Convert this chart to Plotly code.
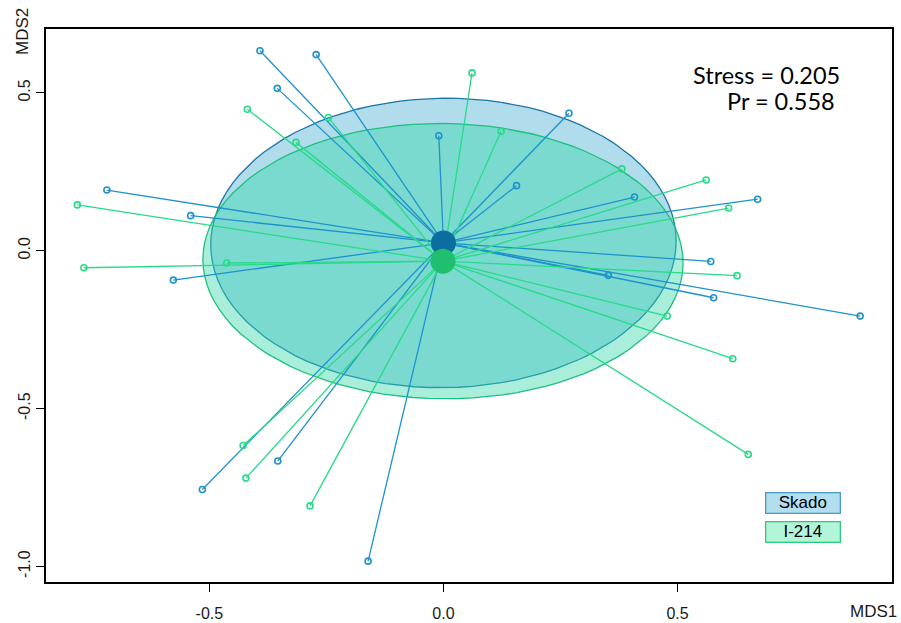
import numpy as np
import plotly.graph_objects as go

# ---- data (NMDS site scores) ----
skado_x = [-0.392, -0.355, -0.719, -0.540, -0.577, -0.272, -0.010, 0.268, 0.156,
           0.408, 0.671, 0.571, 0.352, 0.577, 0.890, -0.515, -0.354, -0.161]
skado_y = [0.633, 0.514, 0.192, 0.111, -0.093, 0.621, 0.364, 0.435, 0.206,
           0.170, 0.163, -0.034, -0.078, -0.149, -0.207, -0.756, -0.666, -0.983]

i214_x = [-0.419, -0.315, -0.782, -0.768, -0.463, -0.246, 0.061, 0.123, 0.381,
          0.561, 0.609, 0.627, 0.478, 0.618, 0.651, -0.428, -0.422, -0.285]
i214_y = [0.448, 0.343, 0.145, -0.054, -0.039, 0.422, 0.563, 0.378, 0.259,
          0.224, 0.135, -0.079, -0.207, -0.342, -0.645, -0.617, -0.720, -0.808]

group_names = ["Skado", "I-214"]
stress_text = "Stress = 0.205"
pr_text = "Pr = 0.558"
x_ticks = [-0.5, 0.0, 0.5]
y_ticks = [-1.0, -0.5, 0.0, 0.5]
x_tick_labels = ["-0.5", "0.0", "0.5"]
y_tick_labels = ["-1.0", "-0.5", "0.0", "0.5"]

styles = {
    "Skado": dict(fill="rgba(58,168,208,0.40)", edge="#1C76A6", line="#1E92CB",
                  cent="#0B6E9E", box_fill="#B3DEEF", box_edge="#4A9CC8"),
    "I-214": dict(fill="rgba(50,214,170,0.42)", edge="#1EBF7E", line="#27DA88",
                  cent="#1FBF6F", box_fill="#B3F5D8", box_edge="#2DC97E"),
}

groups = {"Skado": (np.array(skado_x), np.array(skado_y)),
          "I-214": (np.array(i214_x), np.array(i214_y))}


def sd_ellipse(x, y, n=100):
    cov = np.cov(np.vstack([x, y]))
    L = np.linalg.cholesky(cov)
    t = np.linspace(0, 2 * np.pi, n + 1)
    circ = np.vstack([np.cos(t), np.sin(t)])
    pts = L @ circ
    return x.mean() + pts[0], y.mean() + pts[1]


fig = go.Figure()

# ellipses
for g in group_names:
    x, y = groups[g]
    ex, ey = sd_ellipse(x, y)
    s = styles[g]
    fig.add_trace(go.Scatter(x=ex, y=ey, mode="lines", fill="toself",
                             fillcolor=s["fill"], line=dict(color=s["edge"], width=1.3),
                             hoverinfo="skip", showlegend=False))

# spiders
for g in group_names:
    x, y = groups[g]
    cx, cy = x.mean(), y.mean()
    sx, sy = [], []
    for xi, yi in zip(x, y):
        sx += [cx, xi, None]
        sy += [cy, yi, None]
    fig.add_trace(go.Scatter(x=sx, y=sy, mode="lines",
                             line=dict(color=styles[g]["line"], width=1.3),
                             hoverinfo="skip", showlegend=False))

# site points
for g in group_names:
    x, y = groups[g]
    fig.add_trace(go.Scatter(x=x, y=y, mode="markers",
                             marker=dict(symbol="circle-open", size=6, color=styles[g]["line"],
                                         line=dict(color=styles[g]["line"], width=1.6)),
                             name=g, showlegend=False))

# centroids
for g in group_names:
    x, y = groups[g]
    fig.add_trace(go.Scatter(x=[x.mean()], y=[y.mean()], mode="markers",
                             marker=dict(size=25, color=styles[g]["cent"], line=dict(width=0)),
                             hoverinfo="skip", showlegend=False))

axis_font = dict(family="Arial, Liberation Sans, sans-serif", size=16, color="#1a1a1a")

fig.update_xaxes(range=[-0.849, 0.958], tickvals=x_ticks, ticktext=x_tick_labels,
                 ticks="outside", ticklen=8, tickwidth=1.2, tickcolor="black",
                 showline=True, linecolor="black", linewidth=1.5, mirror=True,
                 showgrid=False, zeroline=False, tickfont=axis_font,
                 ticklabelstandoff=8, automargin=False)
fig.update_yaxes(range=[-1.049, 0.702], tickvals=y_ticks, ticktext=y_tick_labels,
                 ticks="outside", ticklen=8, tickwidth=1.2, tickcolor="black",
                 showline=True, linecolor="black", linewidth=1.5, mirror=True,
                 showgrid=False, zeroline=False, tickfont=axis_font, tickangle=-90,
                 ticklabelstandoff=0, automargin=False)

txt_font = dict(family="Lato, sans-serif", size=23.5, color="black")
annotations = [
    dict(text=stress_text, x=0.9409, y=0.9175, xref="paper", yref="paper",
         xanchor="right", yanchor="middle", showarrow=False, height=24, font=txt_font),
    dict(text=pr_text, x=0.9353, y=0.8705, xref="paper", yref="paper",
         xanchor="right", yanchor="middle", showarrow=False, height=24, font=txt_font),
]

lab_font = dict(family="Arial, Liberation Sans, sans-serif", size=17, color="#1a1a1a")
# axis titles at the ends of axes
annotations.append(dict(text="MDS1", x=1.0 + 7 / 846, y=-29 / 553, xref="paper", yref="paper",
                        xanchor="right", yanchor="middle", showarrow=False, font=lab_font))
annotations.append(dict(text="MDS2", x=-24 / 846, y=1.0 + (29 - 32) / 553, xref="paper", yref="paper",
                        xanchor="center", yanchor="middle", textangle=-90, showarrow=False,
                        font=lab_font))

# legend boxes
for g, yp in zip(group_names, [0.1432, 0.0900]):
    s = styles[g]
    annotations.append(dict(text=g, x=0.8953, y=yp, xref="paper", yref="paper",
                            xanchor="center", yanchor="middle", showarrow=False,
                            width=71, height=17, bgcolor=s["box_fill"],
                            bordercolor=s["box_edge"], borderwidth=1.3, borderpad=1,
                            font=dict(family="Arial, Liberation Sans, sans-serif", size=17, color="black")))

fig.update_layout(width=901, height=623, margin=dict(l=46, r=9, t=29, b=41, autoexpand=False),
                  plot_bgcolor="white", paper_bgcolor="white",
                  annotations=annotations, showlegend=False)

fig.write_html("out.html", config={"displayModeBar": False},
               post_script="document.body.style.margin='0';document.body.style.overflow='hidden';")
